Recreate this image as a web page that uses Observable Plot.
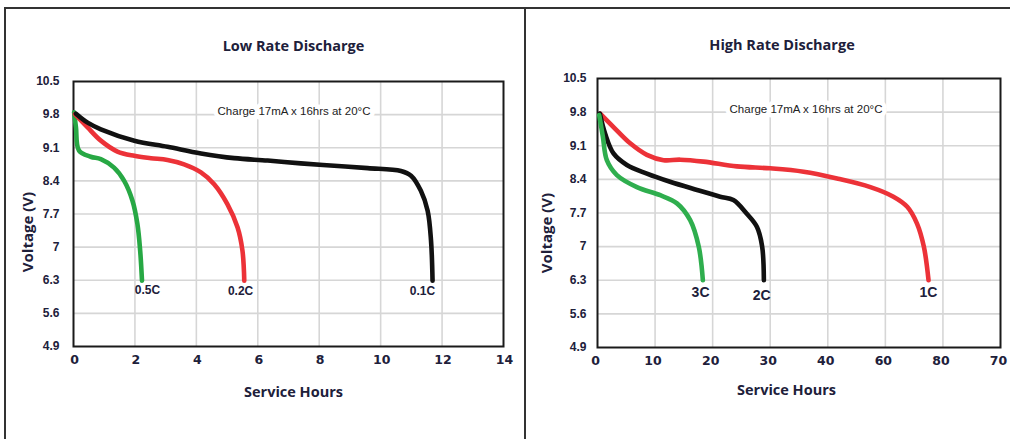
<!DOCTYPE html>
<html>
<head>
<meta charset="utf-8">
<script src="https://cdn.jsdelivr.net/npm/d3@7"></script>
<script src="https://cdn.jsdelivr.net/npm/@observablehq/plot@0.6"></script>
<style>
  html, body { margin: 0; padding: 0; background: #fff; }
  #wrap { position: relative; width: 1010px; height: 439px; overflow: hidden; background: #fff; }
  .bord { position: absolute; background: #333; }
  .panel { position: absolute; top: 0; }
  .panel svg { background: transparent !important; }
</style>
</head>
<body>
<div id="wrap">
  <div class="bord" style="left:4px;top:7px;width:1006px;height:2px"></div>
  <div class="bord" style="left:4px;top:7px;width:2px;height:432px"></div>
  <div class="bord" style="left:524px;top:7px;width:2px;height:432px"></div>
  <div class="panel" id="left" style="left:0px"></div>
  <div class="panel" id="right" style="left:525px"></div>
</div>
<script>
// ---------- Data ----------
const yTicks = [4.9, 5.6, 6.3, 7, 7.7, 8.4, 9.1, 9.8, 10.5];
const yTickLabels = ["4.9", "5.6", "6.3", "7", "7.7", "8.4", "9.1", "9.8", "10.5"];

const lowXTicks = [0, 2, 4, 6, 8, 10, 12, 14];
const lowXTickLabels = ["0", "2", "4", "6", "8", "10", "12", "14"];
const highXTicks = [0, 10, 20, 30, 40, 50, 60, 70];
const highXTickLabels = ["0", "10", "20", "30", "40", "60", "80", "70"];

// Low rate discharge
const low05C_hours = [0.02, 0.08, 0.18, 0.56, 0.89, 1.32, 1.65, 1.92, 2.08, 2.17, 2.23];
const low05C_volts = [9.85, 9.53, 9.04, 8.91, 8.86, 8.68, 8.40, 7.98, 7.49, 6.93, 6.29];
const low02C_hours = [0.05, 0.46, 0.89, 1.43, 1.98, 2.52, 3.06, 3.60, 4.15, 4.58, 5.01, 5.34, 5.50, 5.56];
const low02C_volts = [9.81, 9.53, 9.25, 9.02, 8.93, 8.88, 8.84, 8.75, 8.58, 8.33, 7.91, 7.42, 6.93, 6.29];
const low01C_hours = [0.08, 0.46, 0.89, 1.98, 3.06, 4.15, 5.23, 6.32, 7.40, 8.49, 9.58, 10.66, 10.99, 11.31, 11.53, 11.64, 11.69];
const low01C_volts = [9.82, 9.63, 9.49, 9.25, 9.12, 8.98, 8.88, 8.83, 8.77, 8.72, 8.67, 8.61, 8.51, 8.19, 7.77, 7.14, 6.29];

// High rate discharge
const high1C_hours = [0.46, 2.78, 5.68, 8.58, 11.47, 14.37, 18.42, 24.2, 30.0, 35.8, 41.6, 47.4, 51.4, 53.8, 55.5, 56.7, 57.5];
const high1C_volts = [9.77, 9.49, 9.15, 8.91, 8.80, 8.81, 8.77, 8.67, 8.63, 8.56, 8.42, 8.24, 8.04, 7.83, 7.48, 6.99, 6.30];
const high2C_hours = [0.4, 1.33, 2.78, 5.10, 8.58, 12.6, 17.3, 21.3, 23.6, 25.9, 27.7, 28.6, 28.9];
const high2C_volts = [9.77, 9.35, 8.94, 8.70, 8.52, 8.35, 8.18, 8.04, 7.97, 7.69, 7.41, 7.00, 6.30];
const high3C_hours = [0.3, 0.93, 1.62, 3.36, 6.84, 10.9, 13.8, 16.1, 17.6, 18.3];
const high3C_volts = [9.74, 9.29, 8.80, 8.49, 8.24, 8.07, 7.90, 7.55, 6.99, 6.30];

const lowSeries = ["0.5C", "0.2C", "0.1C"];
const lowColors = ["#27a844", "#ec3238", "#111111"];
const lowLabelX = [2.41, 5.44, 11.36];
const lowLabelY = [6.09, 6.07, 6.07];

const highSeries = ["1C", "2C", "3C"];
const highColors = ["#ec3238", "#111111", "#2fae4e"];
const highLabelX = [57.5, 28.5, 17.9];
const highLabelY = [6.05, 5.98, 6.05];

const chargeNote = "Charge 17mA x 16hrs at 20°C";

// ---------- Helpers ----------
function rows(name, hours, volts) {
  return hours.map((h, i) => ({series: name, hours: h, volts: volts[i]}));
}
const TXT = "#20203a";
const SANS = "'Liberation Sans', Arial, sans-serif";
const HUM = "'Open Sans', 'Noto Sans', sans-serif";
const WIDE = "'DejaVu Sans', Verdana, sans-serif";
const NARROW = "'Liberation Sans Narrow', 'Arial Narrow', 'Liberation Sans', sans-serif";
const yLabelMap = new Map(yTicks.map((t, i) => [t, yTickLabels[i]]));

function panel(cfg) {
  const xLabelMap = new Map(cfg.xTicks.map((t, i) => [t, cfg.xTickLabels[i]]));
  const labels = cfg.series.map((s, i) => ({series: s, x: cfg.labelX[i], y: cfg.labelY[i]}));
  return Plot.plot({
    width: cfg.width,
    height: 439,
    marginLeft: cfg.ml, marginRight: cfg.mr, marginTop: cfg.mt, marginBottom: cfg.mb,
    style: {background: "transparent", overflow: "visible"},
    x: {domain: cfg.xDomain, ticks: cfg.xTicks},
    y: {domain: [4.9, 10.5], ticks: yTicks},
    color: {domain: cfg.series, range: cfg.colors},
    marks: [
      Plot.gridX(cfg.xTicks.slice(1, -1), {stroke: "#d6d6d6", strokeOpacity: 1, strokeWidth: 1.6}),
      Plot.gridY(yTicks.slice(1, -1), {stroke: "#d6d6d6", strokeOpacity: 1, strokeWidth: 1.6}),
      Plot.text([chargeNote], {frameAnchor: "top", dx: cfg.noteDx, dy: cfg.noteDy, text: d => d,
        fontFamily: NARROW, fontSize: 11.5, fill: "#222", stroke: "white", strokeWidth: 9,
        paintOrder: "stroke", lineAnchor: "middle"}),
      Plot.frame({stroke: "#1a1a1a", strokeWidth: 2}),
      Plot.axisY({ticks: yTicks, tickSize: 0, tickPadding: cfg.yPad, tickFormat: d => yLabelMap.get(d),
        fontFamily: SANS, fontWeight: "bold", fontSize: 12, fill: TXT, label: null}),
      Plot.axisX({ticks: cfg.xTicks, tickSize: 0, tickPadding: 9, tickFormat: d => xLabelMap.get(d),
        fontFamily: WIDE, fontWeight: "bold", fontSize: 12.5, letterSpacing: 1.2, fill: TXT, label: null,
        dx: cfg.xTickDx}),
      Plot.line(cfg.data, {x: "hours", y: "volts", z: "series", stroke: "series", strokeWidth: 4.6,
        curve: "catmull-rom", strokeLinecap: "round", strokeLinejoin: "round"}),
      Plot.text(labels, {x: "x", y: "y", text: "series", fontFamily: cfg.labelFont, fontWeight: "bold",
        fontSize: cfg.labelSize, fill: TXT}),
      Plot.text([cfg.title], {frameAnchor: "top", dx: cfg.titleDx, dy: cfg.titleDy, text: d => d,
        fontFamily: HUM, fontWeight: "bold", fontSize: 14.5, fill: TXT, lineAnchor: "middle"}),
      Plot.text(["Service Hours"], {frameAnchor: "bottom", dx: cfg.xtDx, dy: cfg.xtDy, text: d => d,
        fontFamily: HUM, fontWeight: "bold", fontSize: 14.5, fill: TXT, lineAnchor: "middle"}),
      Plot.text(["Voltage (V)"], {frameAnchor: "left", dx: cfg.ytDx, dy: cfg.ytDy, rotate: -90, text: d => d,
        textAnchor: "middle", fontFamily: HUM, fontWeight: "bold", fontSize: 15, fill: TXT, lineAnchor: "middle"})
    ]
  });
}

const lowData = [
  ...rows("0.5C", low05C_hours, low05C_volts),
  ...rows("0.2C", low02C_hours, low02C_volts),
  ...rows("0.1C", low01C_hours, low01C_volts)
];
const highData = [
  ...rows("1C", high1C_hours, high1C_volts),
  ...rows("2C", high2C_hours, high2C_volts),
  ...rows("3C", high3C_hours, high3C_volts)
];

document.getElementById("left").appendChild(panel({
  width: 525, ml: 73, mr: 22, mt: 81, mb: 93,
  xDomain: [0, 14], xTicks: lowXTicks, xTickLabels: lowXTickLabels, xTickDx: 1,
  series: lowSeries, colors: lowColors, labelX: lowLabelX, labelY: lowLabelY,
  data: lowData, title: "Low Rate Discharge",
  noteDx: 5.5, noteDy: 30, yPad: 14, labelFont: NARROW, labelSize: 12,
  titleDx: 5, titleDy: -35, xtDx: 5, xtDy: 46, ytDx: -45, ytDy: 18
}));
document.getElementById("right").appendChild(panel({
  width: 485, ml: 72, mr: 10, mt: 78, mb: 92,
  xDomain: [0, 70], xTicks: highXTicks, xTickLabels: highXTickLabels, xTickDx: -2,
  series: highSeries, colors: highColors, labelX: highLabelX, labelY: highLabelY,
  data: highData, title: "High Rate Discharge",
  noteDx: 7, noteDy: 31, yPad: 11, labelFont: NARROW, labelSize: 14,
  titleDx: -17, titleDy: -33, xtDx: -12.5, xtDy: 43, ytDx: -50, ytDy: 20
}));
</script>
</body>
</html>
